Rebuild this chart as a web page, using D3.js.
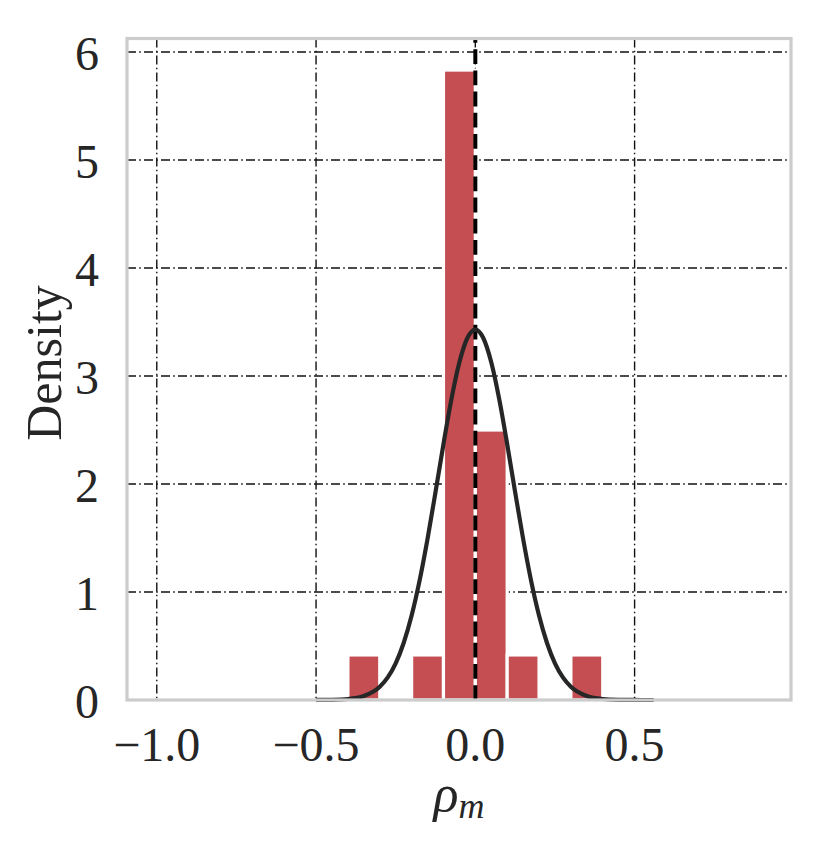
<!DOCTYPE html>
<html>
<head>
<meta charset="utf-8">
<script src="https://cdn.jsdelivr.net/npm/d3@7"></script>
<style>
    body { margin: 0; background: #fff; }
    text { font-family: 'Liberation Serif', 'DejaVu Serif', serif; fill: #262626; }
</style>
</head>
<body>
<div id="chart"></div>
<script>
// histogram bins (left / right edge) and their density
const binLeft = [-0.4, -0.2, -0.1, 0.0, 0.1, 0.3];
const binRight = [-0.3, -0.1, 0.0, 0.1, 0.2, 0.4];
const binDensity = [0.417, 0.417, 5.833, 2.5, 0.417, 0.417];

// fitted normal curve
const curveX = [-0.5, -0.45, -0.4, -0.35, -0.3, -0.275, -0.25, -0.225, -0.2, -0.175, -0.15, -0.125, -0.1, -0.075, -0.05, -0.025,
    0.0, 0.025, 0.05, 0.075, 0.1, 0.125, 0.15, 0.175, 0.2, 0.225, 0.25, 0.275, 0.3, 0.35, 0.4, 0.45, 0.5, 0.56];
const curveY = [0.0003, 0.002, 0.009, 0.037, 0.123, 0.21, 0.34, 0.528, 0.782, 1.106, 1.493, 1.925, 2.37, 2.786, 3.127, 3.352,
    3.43, 3.352, 3.127, 2.786, 2.37, 1.925, 1.493, 1.106, 0.782, 0.528, 0.34, 0.21, 0.123, 0.037, 0.009, 0.002, 0.0003, 0.0];

const meanLine = 0.0;
const xTicks = [-1.0, -0.5, 0.0, 0.5];
const yTicks = [0, 1, 2, 3, 4, 5, 6];

const W = 831, H = 851;
const plot = { left: 127, right: 791, top: 38.5, bottom: 700 };

const x = d3.scaleLinear().domain([-1.0935, 0.991]).range([plot.left, plot.right]);
const y = d3.scaleLinear().domain([0, 6.125]).range([plot.bottom, plot.top]);

const svg = d3.select('#chart')
    .append('svg')
    .attr('width', W)
    .attr('height', H);

svg.append('rect').attr('width', W).attr('height', H).attr('fill', '#fff');

// grid
const grid = svg.append('g')
    .attr('stroke', '#111')
    .attr('stroke-width', 1.4)
    .attr('stroke-dasharray', '9,3.2,1.6,3.2');

grid.selectAll('.vgrid')
    .data(xTicks)
    .enter()
    .append('line')
    .attr('x1', d => x(d))
    .attr('x2', d => x(d))
    .attr('y1', plot.top)
    .attr('y2', plot.bottom);

grid.selectAll('.hgrid')
    .data(yTicks)
    .enter()
    .append('line')
    .attr('x1', plot.left)
    .attr('x2', plot.right)
    .attr('y1', d => y(d))
    .attr('y2', d => y(d));

// bars
svg.append('g')
    .selectAll('rect')
    .data(binDensity)
    .enter()
    .append('rect')
    .attr('x', (d, i) => x(binLeft[i]))
    .attr('width', (d, i) => x(binRight[i]) - x(binLeft[i]))
    .attr('y', d => y(d))
    .attr('height', d => y(0) - y(d))
    .attr('fill', '#c44e52')
    .attr('stroke', '#fff')
    .attr('stroke-width', 3.2);

// mean line
svg.append('line')
    .attr('x1', x(meanLine))
    .attr('x2', x(meanLine))
    .attr('y1', plot.bottom)
    .attr('y2', plot.top)
    .attr('stroke', '#000')
    .attr('stroke-width', 4)
    .attr('stroke-dasharray', '14.8,6.4');

// normal curve
const line = d3.line()
    .x((d, i) => x(curveX[i]))
    .y(d => y(d))
    .curve(d3.curveMonotoneX);

svg.append('path')
    .datum(curveY)
    .attr('fill', 'none')
    .attr('stroke', '#262626')
    .attr('stroke-width', 4.2)
    .attr('stroke-linejoin', 'round')
    .attr('d', line);

// frame
svg.append('rect')
    .attr('x', plot.left)
    .attr('y', plot.top)
    .attr('width', plot.right - plot.left)
    .attr('height', plot.bottom - plot.top)
    .attr('fill', 'none')
    .attr('stroke', '#cccccc')
    .attr('stroke-width', 3.2);

// tick labels
const fmt = d => (d < 0 ? '\u2212' : '') + Math.abs(d).toFixed(1);

svg.append('g')
    .selectAll('text')
    .data(xTicks)
    .enter()
    .append('text')
    .attr('x', d => x(d))
    .attr('y', 761)
    .attr('text-anchor', 'middle')
    .attr('font-size', 48)
    .text(fmt);

svg.append('g')
    .selectAll('text')
    .data(yTicks)
    .enter()
    .append('text')
    .attr('x', 99)
    .attr('y', d => y(d))
    .attr('dy', '0.37em')
    .attr('text-anchor', 'end')
    .attr('font-size', 48)
    .text(d => d);

// axis labels
const xl = svg.append('text')
    .attr('x', (plot.left + plot.right) / 2)
    .attr('y', 811)
    .attr('text-anchor', 'middle')
    .attr('font-size', 52)
    .attr('font-style', 'italic');
xl.append('tspan').text('\u03c1');
xl.append('tspan').attr('font-size', 36).attr('dy', 7).text('m');

svg.append('text')
    .attr('transform', 'translate(61,363) rotate(-90)')
    .attr('text-anchor', 'middle')
    .attr('font-size', 50)
    .text('Density');
</script>
</body>
</html>
